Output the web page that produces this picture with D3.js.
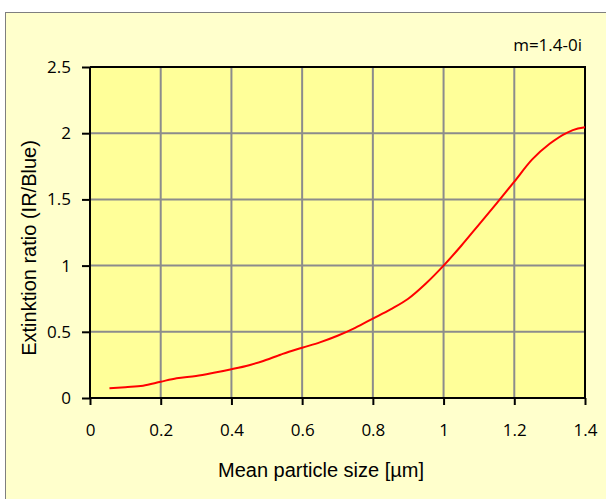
<!DOCTYPE html>
<html>
<head>
<meta charset="utf-8">
<script src="https://cdn.jsdelivr.net/npm/d3@7"></script>
<style>
  body { margin: 0; background: #fff; }
  text { font-family: "Liberation Sans", Arial, sans-serif; }
</style>
</head>
<body>
<div id="chart"></div>
<script>
// particle size [µm] and extinction ratio
const sizes = [0.055, 0.1, 0.15, 0.2, 0.245, 0.3, 0.35, 0.4, 0.45, 0.49, 0.53, 0.545,
    0.6, 0.65, 0.7, 0.75, 0.8, 0.85, 0.9, 0.95, 1.0, 1.05, 1.1, 1.15, 1.2, 1.25,
    1.3, 1.35, 1.38, 1.4];
const ratios = [0.073, 0.082, 0.093, 0.123, 0.149, 0.166, 0.19, 0.217, 0.248, 0.28, 0.318, 0.333,
    0.38, 0.42, 0.47, 0.53, 0.60, 0.67, 0.75, 0.865, 1.0, 1.15, 1.31, 1.47, 1.634, 1.80,
    1.92, 2.005, 2.035, 2.045];
const xTicks = [0, 0.2, 0.4, 0.6, 0.8, 1, 1.2, 1.4];
const yTicks = [0, 0.5, 1, 1.5, 2, 2.5];
const label = "m=1.4-0i";

const W = 606, H = 499;
const margin = { top: 67, right: 21, bottom: 101, left: 90 };
const width = W - margin.left - margin.right;
const height = H - margin.top - margin.bottom;
const tickFont = "'Open Sans', 'Noto Sans', sans-serif";

const root = d3.select("#chart").append("svg")
    .attr("width", W)
    .attr("height", H);

// outer chart area
root.append("rect")
    .attr("x", 5.5).attr("y", 12.5)
    .attr("width", W).attr("height", H)
    .attr("fill", "#ffffcc")
    .attr("stroke", "#7f7f7f")
    .attr("stroke-width", 1);

const svg = root.append("g")
    .attr("transform", `translate(${margin.left},${margin.top})`);

const x = d3.scaleLinear().domain([0, 1.4]).range([0, width]);
const y = d3.scaleLinear().domain([0, 2.5]).range([height, 0]);

svg.append("rect")
    .attr("width", width).attr("height", height)
    .attr("fill", "#ffff99");

// grid
svg.append("g").selectAll("line")
    .data(xTicks.slice(1, -1))
    .join("line")
    .attr("x1", d => x(d)).attr("x2", d => x(d))
    .attr("y1", 0).attr("y2", height)
    .attr("stroke", "#8c8c8c").attr("stroke-width", 2);

svg.append("g").selectAll("line")
    .data(yTicks.slice(1, -1))
    .join("line")
    .attr("y1", d => y(d)).attr("y2", d => y(d))
    .attr("x1", 0).attr("x2", width)
    .attr("stroke", "#8c8c8c").attr("stroke-width", 2);

// frame top/right
svg.append("path")
    .attr("d", `M0,0H${width}V${height}`)
    .attr("fill", "none")
    .attr("stroke", "#000").attr("stroke-width", 2);

const xAxis = svg.append("g")
    .attr("transform", `translate(0,${height})`)
    .call(d3.axisBottom(x).tickValues(xTicks).tickSize(7).tickPadding(19)
        .tickFormat(d3.format("")));
const yAxis = svg.append("g")
    .call(d3.axisLeft(y).tickValues(yTicks).tickSize(8).tickPadding(11)
        .tickFormat(d3.format("")));

[xAxis, yAxis].forEach(ax => {
    ax.select(".domain").attr("stroke", "#000").attr("stroke-width", 2)
        .attr("d", ax === xAxis ? `M0,0H${width}` : `M0,${height}V0`);
    ax.selectAll(".tick line").attr("stroke", "#000").attr("stroke-width", 2);
    ax.selectAll(".tick text")
        .attr("fill", "#000")
        .style("font-family", tickFont)
        .style("font-size", "17px");
});

const line = d3.line()
    .x((d, i) => x(sizes[i]))
    .y(d => y(d))
    .curve(d3.curveMonotoneX);

svg.append("path")
    .datum(ratios)
    .attr("fill", "none")
    .attr("stroke", "#ff0000")
    .attr("stroke-width", 2)
    .attr("d", line);

// titles
root.append("text")
    .attr("x", 321).attr("y", 477)
    .attr("text-anchor", "middle")
    .style("font-size", "20px")
    .text("Mean particle size [µm]");

root.append("text")
    .attr("transform", "translate(36,248) rotate(-90)")
    .attr("text-anchor", "middle")
    .style("font-size", "20px")
    .text("Extinktion ratio (IR/Blue)");

root.append("text")
    .attr("x", 582).attr("y", 51)
    .attr("text-anchor", "end")
    .style("font-family", tickFont)
    .style("font-size", "17px")
    .text(label);
</script>
</body>
</html>
